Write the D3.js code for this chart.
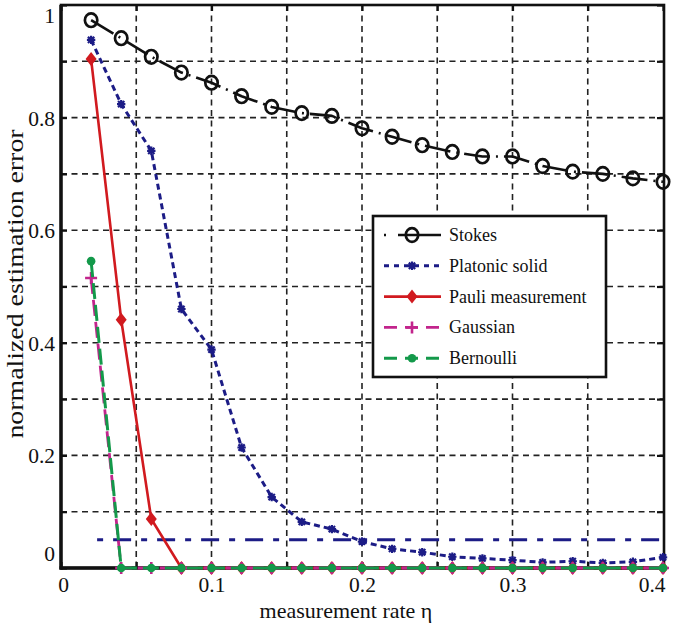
<!DOCTYPE html>
<html>
<head>
<meta charset="utf-8">
<script src="https://cdn.jsdelivr.net/npm/d3@7/dist/d3.min.js"></script>
<style>
html,body{margin:0;padding:0;background:#fff;}
svg{display:block;}
text{font-family:"Liberation Serif","Times New Roman",serif;fill:#111;}
</style>
</head>
<body>
<svg id="chart" width="675" height="625"></svg>
<script>
// ---- data ----
const rates = [0.02,0.04,0.06,0.08,0.10,0.12,0.14,0.16,0.18,0.20,0.22,0.24,0.26,0.28,0.30,0.32,0.34,0.36,0.38,0.40];
const stokes = [0.973,0.941,0.908,0.880,0.862,0.838,0.819,0.808,0.803,0.781,0.766,0.751,0.739,0.731,0.731,0.714,0.704,0.700,0.692,0.686];
const platonic = [0.938,0.824,0.741,0.460,0.388,0.214,0.126,0.082,0.069,0.047,0.034,0.028,0.020,0.017,0.014,0.010,0.012,0.009,0.011,0.019];
const pauli = [0.904,0.441,0.087,0,0,0,0,0,0,0,0,0,0,0,0,0,0,0,0,0];
const gaussian = [0.515,0,0,0,0,0,0,0,0,0,0,0,0,0,0,0,0,0,0,0];
const bernoulli = [0.545,0,0,0,0,0,0,0,0,0,0,0,0,0,0,0,0,0,0,0];
const refX = [0.024,0.40];
const refY = [0.05,0.05];
const seriesNames = ["Stokes","Platonic solid","Pauli measurement","Gaussian","Bernoulli"];
const xTicks = [0,0.05,0.1,0.15,0.2,0.25,0.3,0.35,0.4];
const xTickLabels = ["0","","0.1","","0.2","","0.3","","0.4"];
const yTicks = [0,0.1,0.2,0.3,0.4,0.5,0.6,0.7,0.8,0.9,1];
const yTickLabels = ["0","","0.2","","0.4","","0.6","","0.8","","1"];
const xTitle = "measurement rate \u03B7";
const yTitle = "normalized estimation error";

// ---- layout ----
const L = 61, R = 663, T = 5, B = 568;
const svg = d3.select("#chart");
const x = d3.scaleLinear().domain([0,0.4]).range([L,R]);
const y = d3.scaleLinear().domain([0,1]).range([B,T]);

// grid
const grid = svg.append("g");
grid.selectAll("line.v").data(xTicks.filter(v=>v>0 && v<0.4)).enter().append("line")
  .attr("x1",d=>x(d)).attr("x2",d=>x(d)).attr("y1",T).attr("y2",B)
  .attr("stroke","#222").attr("stroke-width",1.6).attr("stroke-dasharray","6,4.5");
grid.selectAll("line.h").data(yTicks.filter(v=>v>0 && v<1)).enter().append("line")
  .attr("x1",L).attr("x2",R).attr("y1",d=>y(d)).attr("y2",d=>y(d))
  .attr("stroke","#222").attr("stroke-width",1.6).attr("stroke-dasharray","6,4.5");

// axes (inward ticks)
const fmtX = (d,i)=>xTickLabels[xTicks.indexOf(d)];
const fmtY = (d,i)=>yTickLabels[yTicks.indexOf(d)];
const gx = svg.append("g").attr("transform",`translate(0,${B})`)
  .call(d3.axisBottom(x).tickValues(xTicks).tickSize(-6).tickPadding(0).tickFormat(fmtX));
const gxTop = svg.append("g").attr("transform",`translate(0,${T})`)
  .call(d3.axisTop(x).tickValues(xTicks).tickSize(-6).tickFormat(""));
const gy = svg.append("g").attr("transform",`translate(${L},0)`)
  .call(d3.axisLeft(y).tickValues(yTicks).tickSize(-6).tickPadding(0).tickFormat(fmtY));
const gyR = svg.append("g").attr("transform",`translate(${R},0)`)
  .call(d3.axisRight(y).tickValues(yTicks).tickSize(-6).tickFormat(""));
[gx,gxTop,gy,gyR].forEach(g=>{
  g.select(".domain").remove();
  g.selectAll(".tick line").attr("stroke","#111").attr("stroke-width",2.2);
});
gx.selectAll(".tick text").attr("font-size",21.5).attr("fill","#111")
  .attr("font-family","Liberation Serif, serif")
  .attr("y",24).attr("dy",0)
  .attr("text-anchor",d=>d===0.4?"end":"middle")
  .attr("x",d=>d===0.4?2:(d===0?2:0));
gy.selectAll(".tick text").attr("font-size",21.5).attr("fill","#111")
  .attr("font-family","Liberation Serif, serif")
  .attr("x",-6).attr("dy","0.35em")
  .attr("y",d=>d===1?10:(d===0?-15:0));

// border
svg.append("rect").attr("x",L).attr("y",T).attr("width",R-L+1).attr("height",B-T)
  .attr("fill","none").attr("stroke","#111").attr("stroke-width",2.6);
svg.append("line").attr("x1",L).attr("x2",L).attr("y1",T).attr("y2",B+1.5).attr("stroke","#111").attr("stroke-width",3.4);
svg.append("line").attr("x1",L-1.5).attr("x2",R+1).attr("y1",B).attr("y2",B).attr("stroke","#111").attr("stroke-width",3.4);

// titles
svg.append("text").attr("x",346).attr("y",618).attr("text-anchor","middle")
  .attr("font-size",22).text(xTitle);
svg.append("text").attr("transform","translate(23,284) rotate(-90) scale(1.16,1)")
  .attr("text-anchor","middle").attr("font-size",24).text(yTitle);

// colours
const cStokes="#111111", cPlat="#1c1c86", cPauli="#d11a1f", cGauss="#c2248c", cBern="#13994a";

const line = d3.line().x(d=>x(d[0])).y(d=>y(d[1]));
const zipped = arr => rates.map((r,i)=>[r,arr[i]]);

// reference dash-dot line
svg.append("path").datum(refX.map((v,i)=>[v,refY[i]])).attr("d",line)
  .attr("fill","none").attr("stroke",cPlat).attr("stroke-width",3)
  .attr("stroke-dasharray","6,10,18,10");

// marker helpers
function drawMarker(g, type, color, cx, cy){
  if(type==="circle"){
    g.append("ellipse").attr("cx",cx).attr("cy",cy).attr("rx",6.2).attr("ry",6.8)
      .attr("fill","none").attr("stroke",color).attr("stroke-width",2.7);
  } else if(type==="star"){
    const s=4.2;
    g.append("path").attr("d",`M${cx-s},${cy}L${cx+s},${cy}M${cx},${cy-s}L${cx},${cy+s}M${cx-s*0.75},${cy-s*0.75}L${cx+s*0.75},${cy+s*0.75}M${cx-s*0.75},${cy+s*0.75}L${cx+s*0.75},${cy-s*0.75}`)
      .attr("stroke",color).attr("stroke-width",2.2).attr("fill","none");
  } else if(type==="diamond"){
    g.append("path").attr("d",`M${cx},${cy-7}L${cx+5.5},${cy}L${cx},${cy+7}L${cx-5.5},${cy}Z`).attr("fill",color);
  } else if(type==="plus"){
    const s=6;
    g.append("path").attr("d",`M${cx-s},${cy}L${cx+s},${cy}M${cx},${cy-s}L${cx},${cy+s}`)
      .attr("stroke",color).attr("stroke-width",2.6).attr("fill","none");
  } else if(type==="dot"){
    g.append("circle").attr("cx",cx).attr("cy",cy).attr("r",4.3).attr("fill",color);
  }
}

const series = [
  {name:seriesNames[0], vals:stokes, color:cStokes, width:2.6, dash:"26,6,2,6", marker:"circle"},
  {name:seriesNames[1], vals:platonic, color:cPlat, width:3, dash:"6,4", marker:"star"},
  {name:seriesNames[2], vals:pauli, color:cPauli, width:2.6, dash:null, marker:"diamond"},
  {name:seriesNames[3], vals:gaussian, color:cGauss, width:2.8, dash:"16,6", marker:"plus"},
  {name:seriesNames[4], vals:bernoulli, color:cBern, width:3, dash:"16,6", marker:"dot"}
];

series.forEach(s=>{
  const g = svg.append("g");
  const p = g.append("path").datum(zipped(s.vals)).attr("d",line)
    .attr("fill","none").attr("stroke",s.color).attr("stroke-width",s.width)
    .attr("stroke-linejoin","round");
  if(s.dash) p.attr("stroke-dasharray",s.dash);
  zipped(s.vals).forEach(d=>drawMarker(g,s.marker,s.color,x(d[0]),y(d[1])));
});

// legend
const lg = svg.append("g");
lg.append("rect").attr("x",373).attr("y",216).attr("width",233).attr("height",161)
  .attr("fill","#fff").attr("stroke","#111").attr("stroke-width",2.6);
const legendDash = ["2,12,44","5,5","","13,8","13,8"];
series.forEach((s,i)=>{
  const cy = 235 + i*30.8;
  const p = lg.append("line").attr("x1",384).attr("x2",441).attr("y1",cy).attr("y2",cy)
    .attr("stroke",s.color).attr("stroke-width",s.width);
  if(legendDash[i]) p.attr("stroke-dasharray",legendDash[i]);
  drawMarker(lg,s.marker,s.color,412,cy);
  lg.append("text").attr("x",449).attr("y",cy+6).attr("font-size",18).text(s.name);
});
</script>
</body>
</html>
